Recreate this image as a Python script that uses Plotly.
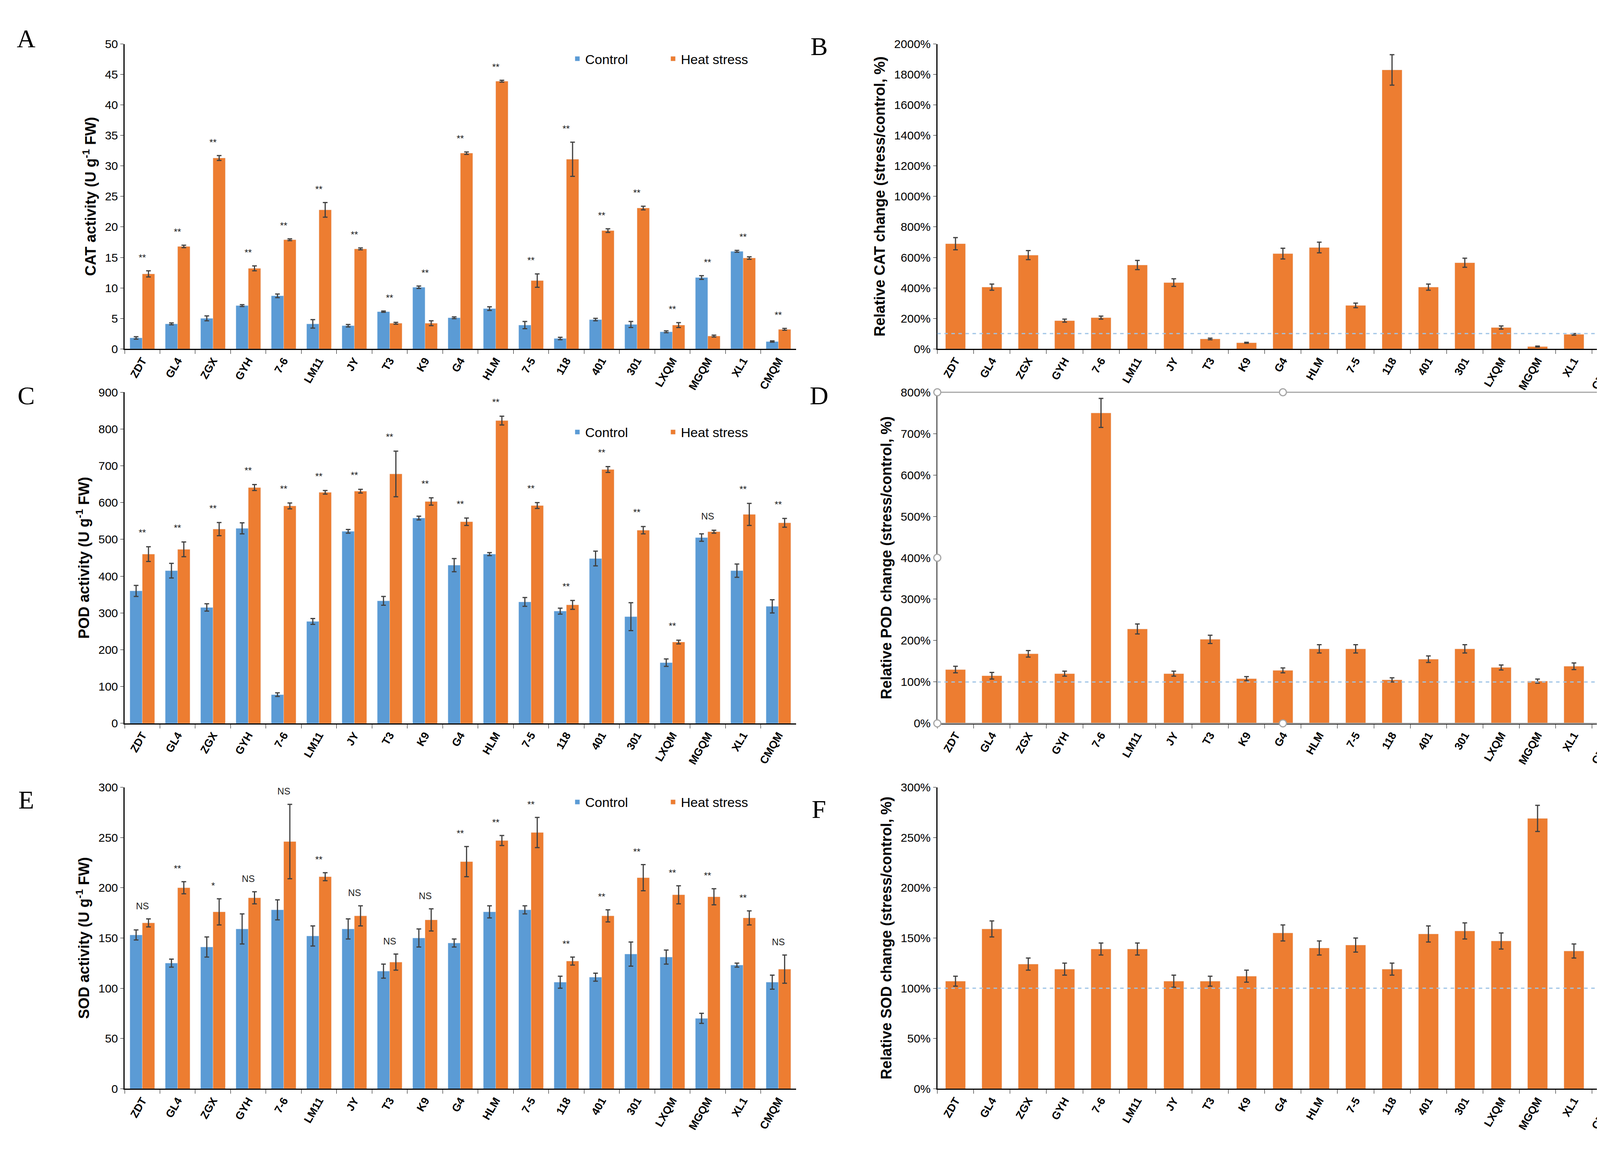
import plotly.graph_objects as go
from plotly.subplots import make_subplots

cultivars = ["ZDT", "GL4", "ZGX", "GYH", "7-6", "LM11", "JY", "T3", "K9", "G4", "HLM",
             "7-5", "118", "401", "301", "LXQM", "MGQM", "XL1", "CMQM"]

cat_ctrl = [1.8, 4.1, 5.0, 7.1, 8.7, 4.1, 3.8, 6.1, 10.1, 5.1, 6.6, 3.9, 1.7, 4.8, 4.0, 2.8, 11.7, 16.0, 1.2]
cat_ctrl_err = [0.2, 0.15, 0.4, 0.15, 0.3, 0.7, 0.2, 0.1, 0.2, 0.15, 0.3, 0.6, 0.2, 0.2, 0.5, 0.15, 0.3, 0.15, 0.1]
cat_heat = [12.3, 16.8, 31.3, 13.2, 17.9, 22.8, 16.4, 4.2, 4.2, 32.1, 43.9, 11.2, 31.1, 19.4, 23.1, 3.9, 2.1, 14.9, 3.2]
cat_heat_err = [0.5, 0.2, 0.4, 0.4, 0.15, 1.2, 0.15, 0.15, 0.4, 0.2, 0.15, 1.1, 2.8, 0.3, 0.3, 0.4, 0.15, 0.2, 0.15]
cat_sig = ["**"] * 19

cat_rel = [690, 405, 615, 185, 205, 550, 435, 65, 40, 625, 665, 285, 1830, 405, 565, 140, 15, 95, 260]
cat_rel_err = [40, 20, 30, 10, 10, 30, 25, 5, 3, 35, 35, 15, 100, 20, 30, 10, 3, 5, 15]

pod_ctrl = [360, 415, 315, 530, 78, 277, 522, 333, 558, 430, 460, 330, 305, 448, 290, 165, 505, 415, 318]
pod_ctrl_err = [15, 20, 10, 15, 5, 8, 5, 12, 5, 18, 4, 12, 8, 20, 38, 10, 10, 18, 18]
pod_heat = [460, 473, 528, 641, 591, 628, 631, 678, 603, 548, 823, 592, 322, 690, 525, 221, 521, 568, 545]
pod_heat_err = [20, 20, 18, 8, 8, 5, 5, 62, 10, 10, 12, 8, 12, 8, 10, 5, 4, 30, 12]
pod_sig = ["**"] * 16 + ["NS", "**", "**"]

pod_rel = [130, 115, 168, 120, 750, 228, 120, 203, 108, 128, 180, 180, 105, 155, 180, 135, 102, 138, 172]
pod_rel_err = [8, 8, 8, 6, 35, 12, 6, 10, 5, 6, 10, 10, 5, 8, 10, 6, 5, 8, 10]

sod_ctrl = [153, 125, 141, 159, 178, 152, 159, 117, 150, 145, 176, 178, 106, 111, 134, 131, 70, 123, 106]
sod_ctrl_err = [5, 4, 10, 15, 10, 10, 10, 7, 9, 4, 6, 4, 6, 4, 12, 7, 5, 2, 7]
sod_heat = [165, 200, 176, 190, 246, 211, 172, 126, 168, 226, 247, 255, 127, 172, 210, 193, 191, 170, 119]
sod_heat_err = [4, 6, 13, 6, 37, 4, 10, 8, 11, 15, 5, 15, 4, 6, 13, 9, 8, 7, 14]
sod_sig = ["NS", "**", "*", "NS", "NS", "**", "NS", "NS", "NS", "**", "**", "**", "**", "**",
           "**", "**", "**", "**", "NS"]

sod_rel = [107, 159, 124, 119, 139, 139, 107, 107, 112, 155, 140, 143, 119, 154, 157, 147, 269, 137, 112]
sod_rel_err = [5, 8, 6, 6, 6, 6, 6, 5, 6, 8, 7, 7, 6, 8, 8, 8, 13, 7, 5]

BLUE = "#5B9BD5"
ORANGE = "#ED7D31"
ERR = "#404040"
SANS = "Liberation Sans, Arial, sans-serif"
TICKFONT = dict(family=SANS, size=30, color="black")

fig = make_subplots(rows=3, cols=2)

xl = [0.074, 0.483]
xr = [0.569, 0.990]
ydom = [[0.703, 0.970], [0.375, 0.665], [0.055, 0.319]]


def err(vals):
    return dict(type="data", array=vals, color=ERR, thickness=3, width=6)


left = [
    (cat_ctrl, cat_ctrl_err, cat_heat, cat_heat_err, cat_sig, "CAT activity (U g<sup>-1</sup> FW)", [0, 50], 5, 1.2, "legend"),
    (pod_ctrl, pod_ctrl_err, pod_heat, pod_heat_err, pod_sig, "POD activity (U g<sup>-1</sup> FW)", [0, 900], 100, 22, "legend2"),
    (sod_ctrl, sod_ctrl_err, sod_heat, sod_heat_err, sod_sig, "SOD activity (U g<sup>-1</sup> FW)", [0, 300], 50, 7, "legend3"),
]
right = [
    (cat_rel, cat_rel_err, "Relative CAT change (stress/control, %)", [0, 2000], 200),
    (pod_rel, pod_rel_err, "Relative POD change (stress/control, %)", [0, 800], 100),
    (sod_rel, sod_rel_err, "Relative SOD change (stress/control, %)", [0, 300], 50),
]
legend_y = [0.957, 0.630, 0.306]

for i, (c, ce, h, he, sig, title, rng, dt, off, lg) in enumerate(left):
    row = i + 1
    fig.add_trace(go.Bar(x=cultivars, y=c, error_y=err(ce), marker_color=BLUE, name="Control",
                         legend=lg), row=row, col=1)
    fig.add_trace(go.Bar(x=cultivars, y=h, error_y=err(he), marker_color=ORANGE, name="Heat stress",
                         legend=lg), row=row, col=1)
    for k, s in enumerate(sig):
        top = max(c[k] + ce[k], h[k] + he[k])
        fig.add_annotation(x=k, y=top + off, text=s, showarrow=False, yanchor="bottom",
                           font=dict(family=SANS, size=24, color="#222"),
                           row=row, col=1)
    fig.update_yaxes(range=rng, dtick=dt, title_text=title, row=row, col=1)
    fig.update_xaxes(domain=xl, row=row, col=1)
    fig.update_yaxes(domain=ydom[i], row=row, col=1)

for i, (v, ve, title, rng, dt) in enumerate(right):
    row = i + 1
    fig.add_trace(go.Bar(x=cultivars, y=v, error_y=err(ve), marker_color=ORANGE, width=0.55,
                         showlegend=False), row=row, col=2)
    fig.add_hline(y=100, line=dict(color="#9DC3E6", width=3, dash="dash"), row=row, col=2)
    fig.update_yaxes(range=rng, dtick=dt, ticksuffix="%", title_text=title, row=row, col=2)
    fig.update_xaxes(domain=xr, row=row, col=2)
    fig.update_yaxes(domain=ydom[i], row=row, col=2)

fig.update_xaxes(type="category", categoryorder="array", categoryarray=cultivars,
                 range=[-0.5, len(cultivars) - 0.5],
                 showline=True, linecolor="black", linewidth=3, ticks="outside", tickson="boundaries",
                 ticklen=10, tickcolor="black", tickangle=-60, showgrid=False,
                 tickfont=dict(family=SANS, size=28, color="black", weight="bold"))
fig.update_yaxes(showline=True, linecolor="black", linewidth=3, ticks="outside", ticklen=8,
                 tickcolor="black", showgrid=False, zeroline=False, tickfont=TICKFONT,
                 title_font=dict(family=SANS, size=38, color="black", weight="bold"),
                 title_standoff=12)

# selection frame drawn round panel D
frame = dict(xref="x4 domain", yref="y4 domain")
fig.add_shape(type="rect", x0=0, x1=1, y0=0, y1=1, line=dict(color="#A6A6A6", width=3), **frame)
for px in [0, 0.5, 1]:
    for py in [0, 0.5, 1]:
        if px == 0.5 and py == 0.5:
            continue
        fig.add_shape(type="circle", xsizemode="pixel", ysizemode="pixel", xanchor=px, yanchor=py,
                      x0=-9, x1=9, y0=-9, y1=9, line=dict(color="#A6A6A6", width=3),
                      fillcolor="white", **frame)

letters = [("A", 0.014, 0.975), ("B", 0.497, 0.968), ("C", 0.014, 0.662), ("D", 0.497, 0.662),
           ("E", 0.014, 0.308), ("F", 0.497, 0.300)]
for t, x, y in letters:
    fig.add_annotation(text=t, x=x, y=y, xref="paper", yref="paper", showarrow=False,
                       xanchor="center", yanchor="middle",
                       font=dict(family="Liberation Serif, Times New Roman", size=66, color="black"))

leg = dict(orientation="h", x=0.345, xanchor="left", yanchor="middle", bgcolor="rgba(0,0,0,0)",
           font=dict(family=SANS, size=34, color="black"),
           itemwidth=30, entrywidth=200)
fig.update_layout(
    width=4203, height=2957,
    margin=dict(l=0, r=0, t=0, b=0),
    paper_bgcolor="white", plot_bgcolor="white",
    barmode="group", bargap=0.3, bargroupgap=0.0,
    legend=dict(leg, y=legend_y[0]),
    legend2=dict(leg, y=legend_y[1]),
    legend3=dict(leg, y=legend_y[2]),
)

fig.write_html("out.html")
